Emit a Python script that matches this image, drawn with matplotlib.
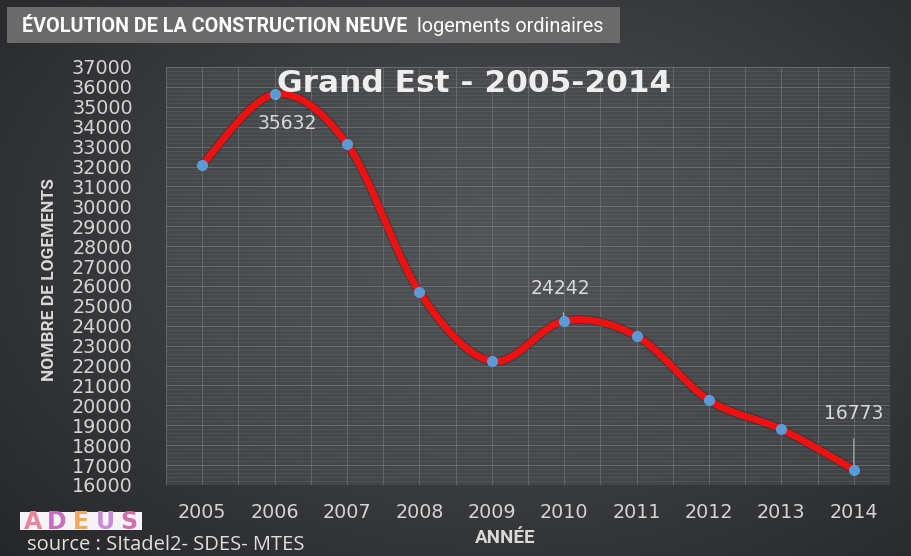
import numpy as np
import matplotlib
matplotlib.use("Agg")
import matplotlib.pyplot as plt
from matplotlib.patches import Rectangle
from matplotlib.ticker import MultipleLocator

years = [2005, 2006, 2007, 2008, 2009, 2010, 2011, 2012, 2013, 2014]
values = [32100, 35632, 33130, 25700, 22220, 24242, 23480, 20260, 18800, 16773]
labeled = {2006: "35632", 2010: "24242", 2014: "16773"}
y_ticks = list(range(16000, 37001, 1000))

title_main = "ÉVOLUTION DE LA CONSTRUCTION NEUVE"
title_sub = "logements ordinaires"
chart_title = "Grand Est - 2005-2014"
xlabel = "ANNÉE"
ylabel = "NOMBRE DE LOGEMENTS"
source = "source : SItadel2- SDES- MTES"
logo = ["A", "D", "E", "U", "S"]
logo_cols = ["#e8869e", "#c56fc0", "#f0a860", "#c88ad8", "#d66cae"]

W, H = 911, 556
fig = plt.figure(figsize=(W / 100, H / 100), dpi=100)
renderer = fig.canvas.get_renderer()


def fit(txt, width_px, start=14.0, maxsize=None):
    bb = txt.get_window_extent(renderer=renderer)
    w = bb.width if txt.get_rotation() == 0 else bb.height
    size = start * width_px / w
    if maxsize is not None:
        size = min(size, maxsize)
    txt.set_fontsize(size)
    return txt


# background radial gradient
bg = fig.add_axes([0, 0, 1, 1], zorder=0)
yy, xx = np.mgrid[0:H, 0:W]
r = np.sqrt(((xx - 500) / 620) ** 2 + ((yy - 240) / 420) ** 2)
v = np.clip(0.31 - 0.15 * r, 0.13, 0.31)
img = np.dstack([v, v * 1.01 + 0.005, v * 1.03 + 0.01])
bg.imshow(np.clip(img, 0, 1), aspect="auto", extent=[0, W, H, 0])
bg.set_xlim(0, W)
bg.set_ylim(H, 0)
bg.axis("off")

# title box
bg.add_patch(Rectangle((7, 7), 613, 36, facecolor="#6a6a6b", edgecolor="none"))
t1 = bg.text(22, 26, title_main, color="white", fontsize=14, fontweight="bold",
             family=["Roboto", "DejaVu Sans"], va="center", ha="left")
fit(t1, 388)
t2 = bg.text(417, 26, title_sub, color="white", fontsize=14,
             family=["Roboto", "DejaVu Sans"], va="center", ha="left")
fit(t2, 188)

# plot axes
left, right, top, bottom = 166, 890, 67, 485
ax = fig.add_axes([left / W, 1 - bottom / H, (right - left) / W, (bottom - top) / H], zorder=1)
ax.set_facecolor((0.33, 0.34, 0.35, 0.45))
ax.set_xlim(2004.5, 2014.5)
ax.set_ylim(16000, 37000)
ax.set_yticks(y_ticks)
ax.set_xticks(years)
ax.xaxis.set_minor_locator(MultipleLocator(0.5))
ax.yaxis.set_minor_locator(MultipleLocator(200))
ax.grid(which="minor", axis="x", color="#7a7c80", lw=0.7, alpha=0.6)
ax.grid(which="major", axis="x", color="#7a7c80", lw=0.7, alpha=0.6)
ax.grid(which="major", axis="y", color="#808286", lw=0.7, alpha=0.6)
ax.grid(which="minor", axis="y", color="#6a6c70", lw=0.5, alpha=0.45)
ax.set_axisbelow(True)
for s in ax.spines.values():
    s.set_visible(False)
ax.tick_params(which="both", length=0)
ax.tick_params(axis="y", pad=24, labelsize=13.8, labelcolor="#d4d4d4")
ax.tick_params(axis="x", pad=13, labelsize=13.8, labelcolor="#d4d4d4")

# Excel-like smoothed line (Catmull-Rom Bezier)
xs = np.array(years, float)
ys = np.array(values, float)
px, py = [], []
n = len(xs)
t = np.linspace(0, 1, 40)
for i in range(n - 1):
    p0 = np.array([xs[max(i - 1, 0)], ys[max(i - 1, 0)]])
    p1 = np.array([xs[i], ys[i]])
    p2 = np.array([xs[i + 1], ys[i + 1]])
    p3 = np.array([xs[min(i + 2, n - 1)], ys[min(i + 2, n - 1)]])
    c1 = p1 + (p2 - p0) / 6
    c2 = p2 - (p3 - p1) / 6
    b = ((1 - t) ** 3)[:, None] * p1 + (3 * (1 - t) ** 2 * t)[:, None] * c1 \
        + (3 * (1 - t) * t ** 2)[:, None] * c2 + (t ** 3)[:, None] * p2
    px.extend(b[:, 0])
    py.extend(b[:, 1])
ax.plot(px, py, color="#1a1a1a", lw=6.5, alpha=0.35, solid_capstyle="round", zorder=2)
ax.plot(px, py, color="#ee1111", lw=5, solid_capstyle="round", zorder=3)
ax.plot(xs, ys, ls="none", marker="o", ms=7, mfc="#5b9bd5", mec="#5b9bd5", zorder=4)

# data labels with leader lines
offsets = {2006: (0.17, -1450), 2010: (-0.05, 1650), 2014: (0.0, 2800)}
for yr, lab in labeled.items():
    val = values[years.index(yr)]
    dx, dy = offsets[yr]
    ax.annotate(lab, xy=(yr, val), xytext=(yr + dx, val + dy), color="#d8d8d8",
                fontsize=13.5, ha="center", va="center", zorder=6,
                arrowprops=dict(arrowstyle="-", color="#b0b0b0", lw=0.8, shrinkA=9, shrinkB=3))

ct = fig.text(474 / W, 1 - 83 / H, chart_title, color="#eeeeee", fontsize=21,
              fontweight="bold", ha="center", va="center", zorder=10)
fit(ct, 412, start=21, maxsize=22.5)

fig.text(50 / W, 1 - 280 / H, ylabel, rotation=90, color="#d8d8d8", fontsize=12.5,
         fontweight="bold", family=["Roboto", "DejaVu Sans"], ha="center", va="center")
fig.text(505 / W, 1 - 538 / H, xlabel, color="#d8d8d8", fontsize=13.5,
         fontweight="bold", ha="center", va="center", family=["Roboto", "DejaVu Sans"])
fig.text(27 / W, 1 - 545 / H, source, color="#e0e0e0", fontsize=14.5,
         ha="left", va="center", family=["Open Sans", "DejaVu Sans"])

# ADEUS logo
bg.add_patch(Rectangle((20, 512), 122, 18, facecolor="#f6f4f6", edgecolor="none"))
for k, (ch, c) in enumerate(zip(logo, logo_cols)):
    bg.text(33 + k * 24, 522, ch, color=c, fontsize=17, fontweight="bold",
            ha="center", va="center", family=["DejaVu Sans"])

fig.savefig("out.png", dpi=100, facecolor="#2e3033")
